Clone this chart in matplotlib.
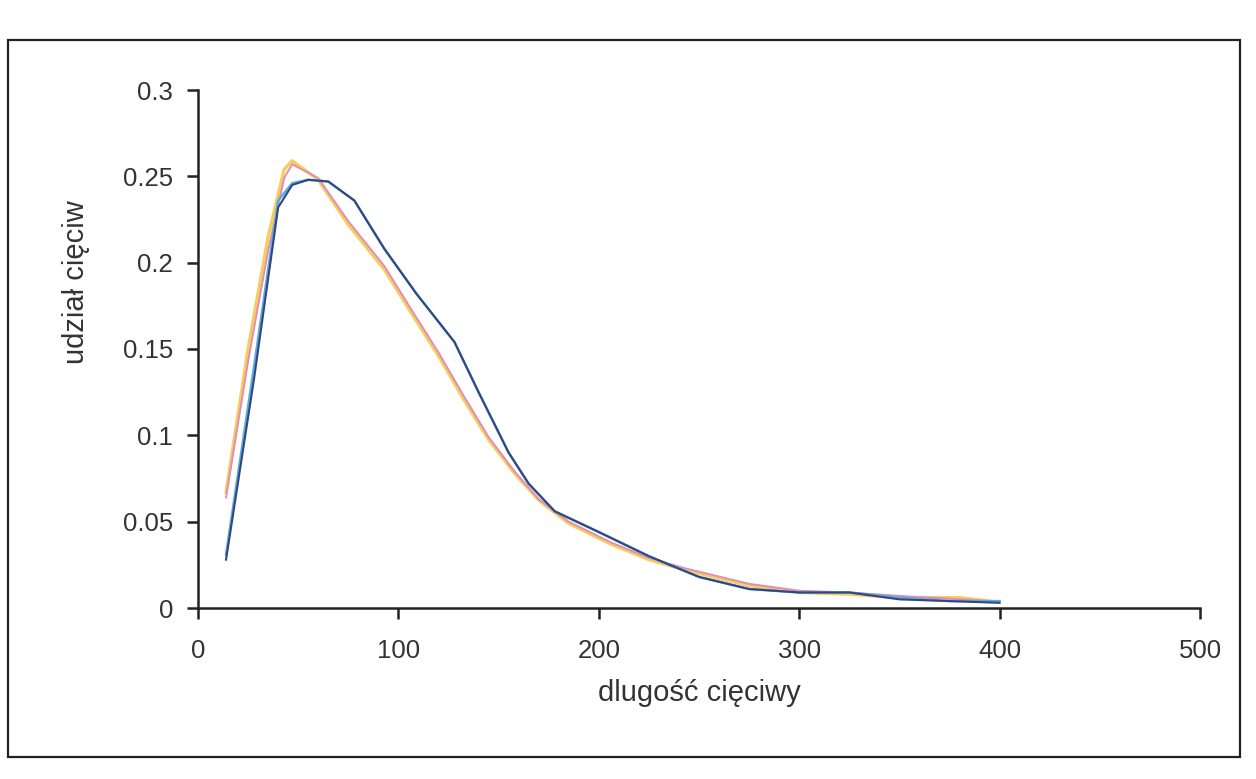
import matplotlib
matplotlib.use("Agg")
import matplotlib.pyplot as plt
from matplotlib.patches import Rectangle

# ---- data ----
x_yellow = [14, 25, 35, 43, 47, 60, 75, 93, 108, 120, 133, 145, 158, 170, 185, 206, 225, 243, 275, 300, 325, 350, 380, 395]
y_yellow = [0.067, 0.150, 0.215, 0.254, 0.259, 0.248, 0.222, 0.196, 0.168, 0.146, 0.120, 0.0975, 0.078, 0.0625, 0.049, 0.037, 0.028, 0.022, 0.013, 0.009, 0.008, 0.006, 0.006, 0.004]

x_pink = [14, 25, 35, 43, 47, 60, 75, 93, 108, 120, 133, 145, 158, 170, 185, 206, 225, 243, 275, 300, 325, 350, 380, 395]
y_pink = [0.064, 0.143, 0.207, 0.249, 0.257, 0.249, 0.224, 0.198, 0.170, 0.148, 0.122, 0.099, 0.079, 0.063, 0.050, 0.038, 0.029, 0.023, 0.014, 0.010, 0.009, 0.007, 0.005, 0.004]

x_lightblue = [14, 28, 40, 47, 55, 65, 78, 93, 109, 128, 140, 155, 165, 178, 200, 225, 250, 275, 300, 325, 350, 375, 400]
y_lightblue = [0.031, 0.140, 0.236, 0.246, 0.248, 0.247, 0.236, 0.208, 0.182, 0.154, 0.125, 0.090, 0.072, 0.056, 0.044, 0.030, 0.018, 0.011, 0.009, 0.009, 0.006, 0.004, 0.004]

x_navy = [14, 28, 40, 47, 55, 65, 78, 93, 109, 128, 140, 155, 165, 178, 200, 225, 250, 275, 300, 325, 350, 375, 400]
y_navy = [0.028, 0.133, 0.232, 0.245, 0.248, 0.247, 0.236, 0.208, 0.182, 0.154, 0.125, 0.090, 0.072, 0.056, 0.044, 0.030, 0.018, 0.011, 0.009, 0.009, 0.005, 0.004, 0.003]

x_ticks = [0, 100, 200, 300, 400, 500]
y_ticks = [0, 0.05, 0.1, 0.15, 0.2, 0.25, 0.3]
y_tick_labels = ["0", "0.05", "0.1", "0.15", "0.2", "0.25", "0.3"]
x_label = "dlugość cięciwy"
y_label = "udział cięciw"

plt.rcParams['font.family'] = ['Liberation Sans', 'DejaVu Sans']

W, H = 1256, 779
fig = plt.figure(figsize=(W / 100, H / 100), dpi=100)
fig.patch.set_facecolor("white")

# outer chart border
fig.patches.append(Rectangle((8 / W, 1 - 757 / H), (1240 - 8) / W, (757 - 40) / H,
                             transform=fig.transFigure, fill=False,
                             edgecolor="#222222", linewidth=1.6))

left, right = 198, 1200
top, bottom = 90, 608
ax = fig.add_axes([left / W, 1 - bottom / H, (right - left) / W, (bottom - top) / H])
ax.set_facecolor("none")

lw = 1.8
ax.plot(x_yellow, y_yellow, color="#F6CE5C", lw=lw + 0.6, solid_joinstyle="round")
ax.plot(x_pink, y_pink, color="#E08DB8", lw=lw - 0.4, solid_joinstyle="round")
ax.plot(x_lightblue, y_lightblue, color="#56AEDD", lw=lw, solid_joinstyle="round")
ax.plot(x_navy, y_navy, color="#34457F", lw=lw - 0.3, solid_joinstyle="round")

ax.set_xlim(0, 500)
ax.set_ylim(0, 0.3)
ax.set_xticks(x_ticks)
ax.set_xticklabels([str(v) for v in x_ticks])
ax.set_yticks(y_ticks)
ax.set_yticklabels(y_tick_labels)

for s in ["top", "right"]:
    ax.spines[s].set_visible(False)
for s in ["left", "bottom"]:
    ax.spines[s].set_color("#222222")
    ax.spines[s].set_linewidth(1.8)

ax.tick_params(axis="both", direction="out", length=8, width=1.8, color="#222222",
               labelsize=18.5, labelcolor="#333333")
ax.tick_params(axis="x", pad=14)
ax.tick_params(axis="y", pad=10)

ax.set_xlabel(x_label, fontsize=21, color="#333333", labelpad=12)
ax.set_ylabel(y_label, fontsize=21, color="#333333")
ax.yaxis.set_label_coords(-0.108, 0.63)

fig.savefig("out.png", dpi=100)
